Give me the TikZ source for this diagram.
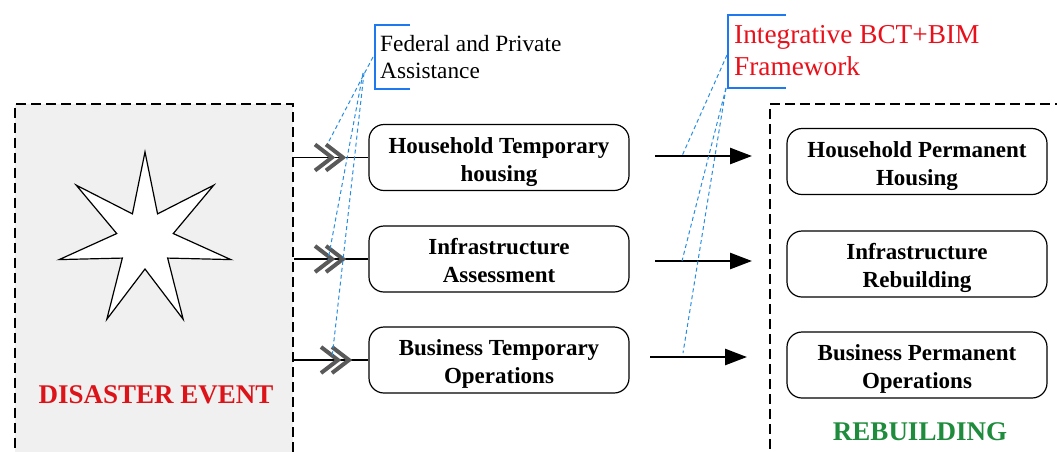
\documentclass[tikz,border=0pt]{standalone}
\usepackage{fontspec}
\setmainfont{Liberation Serif}
\usetikzlibrary{arrows.meta}
\definecolor{bgray}{HTML}{F0F0F0}
\definecolor{evred}{HTML}{DC1419}
\definecolor{fwred}{HTML}{E8101A}
\definecolor{rbgreen}{HTML}{1E8C3C}
\definecolor{cblue}{HTML}{1E78F0}
\definecolor{dblue}{HTML}{2A8EE0}
\definecolor{chevgray}{HTML}{595959}
\newcommand\boxlines[2]{\raisebox{0pt}[\height][\dimexpr\depth-8pt\relax]{\begin{tabular}{@{}c@{}}#1\\#2\end{tabular}}}
\begin{document}
\begin{tikzpicture}[x=1pt,y=-1pt,
 region/.style={draw, dash pattern=on 10pt off 5pt, line width=1.5pt, inner sep=0pt},
 procbox/.style={draw, rounded corners=15pt, line width=1.2pt, minimum width=260pt, minimum height=66pt, inner sep=0pt, font=\bfseries\fontsize{23}{28}\selectfont},
 link/.style={line width=1.3pt},
 chev/.style={draw=chevgray, line width=4pt},
 callout/.style={draw=cblue, line width=1.3pt},
 leader/.style={draw=dblue, dash pattern=on 4pt off 3pt, line width=1pt},
 flow/.style={line width=2.6pt, -{Triangle[length=22pt,width=16pt]}},
 title/.style={anchor=base, font=\bfseries\fontsize{27}{32}\selectfont},
 dchev/.pic={\path[chev] (-28,-13) -- (-11,0) -- (-28,13) (-17,-13) -- (0,0) -- (-17,13);}
]
\useasboundingbox (0,0) rectangle (1057,451);

% regions
\node[region, fill=bgray, minimum width=278pt, minimum height=400pt, anchor=north west] (dbox) at (14,103) {};
\node[region, minimum width=330pt, minimum height=400pt, anchor=north west] (rbox) at (769,103) {};

% star
\draw[fill=white, line width=1.2pt, shift={(145,240)}] (-90:88)
  \foreach \i in {1,...,13}{ -- ({-90+\i*360/14}:{ifthenelse(isodd(\i),29,88)}) } -- cycle;

\node[title, text=evred] (dtitle) at (156,403) {DISASTER EVENT};
\node[title, text=rbgreen] (rtitle) at (920,440) {REBUILDING};

% middle boxes
\node[procbox] (m1) at (499,157.5) {\boxlines{Household Temporary}{housing}};
\node[procbox] (m2) at (499,259) {\boxlines{Infrastructure}{Assessment}};
\node[procbox] (m3) at (499,360) {\boxlines{Business Temporary}{Operations}};

% right boxes
\node[procbox] (r1) at (917,161.5) {\boxlines{Household Permanent}{Housing}};
\node[procbox] (r2) at (917,264) {\boxlines{Infrastructure}{Rebuilding}};
\node[procbox] (r3) at (917,365) {\boxlines{Business Permanent}{Operations}};

% connectors
\draw[link] (m1.west -| dbox.east) -- (m1.west);
\draw[link] (m2.west -| dbox.east) -- (m2.west);
\draw[link] (m3.west -| dbox.east) -- (m3.west);
\pic at (343,157.5) {dchev};
\pic at (343,259) {dchev};
\pic at (349,360) {dchev};

% flow arrows
\coordinate (a1s) at (655,156); \coordinate (a1e) at (752,156);
\coordinate (a2s) at (655,261); \coordinate (a2e) at (752,261);
\coordinate (a3s) at (650,357); \coordinate (a3e) at (747,357);
\draw[flow] (a1s) -- (a1e);
\draw[flow] (a2s) -- (a2e);
\draw[flow] (a3s) -- (a3e);

% callouts
\path[callout] (410,25) -- (375,25) -- (375,89) -- (410,89);
\node[anchor=north west, inner sep=0pt, align=left, font=\fontsize{23.3}{27}\selectfont] (fed) at (380,35) {Federal and Private\\Assistance};
\path[callout] (786,15) -- (728,15) -- (728,88) -- (786,88);
\node[anchor=north west, inner sep=0pt, align=left, text=fwred, font=\fontsize{27.3}{32}\selectfont] (bct) at (734,25.5) {Integrative BCT+BIM\\Framework};

% leaders
\coordinate (f1) at (373,57); \coordinate (f2) at (363,73); \coordinate (f3) at (364,73);
\coordinate (b1) at (727,55); \coordinate (b2) at (726,88);
\coordinate (c1) at (328,143); \coordinate (c2) at (328,260); \coordinate (c3) at (332,358);
\coordinate (d1) at (682,156); \coordinate (d2) at (682,261); \coordinate (d3) at (683,353);
\path[leader] (f1) -- (c1);
\path[leader] (f2) -- (c2);
\path[leader] (f3) -- (c3);
\path[leader] (b1) -- (d1);
\path[leader] (b2) -- (d2);
\path[leader] (b2) -- (d3);
\end{tikzpicture}
\end{document}
